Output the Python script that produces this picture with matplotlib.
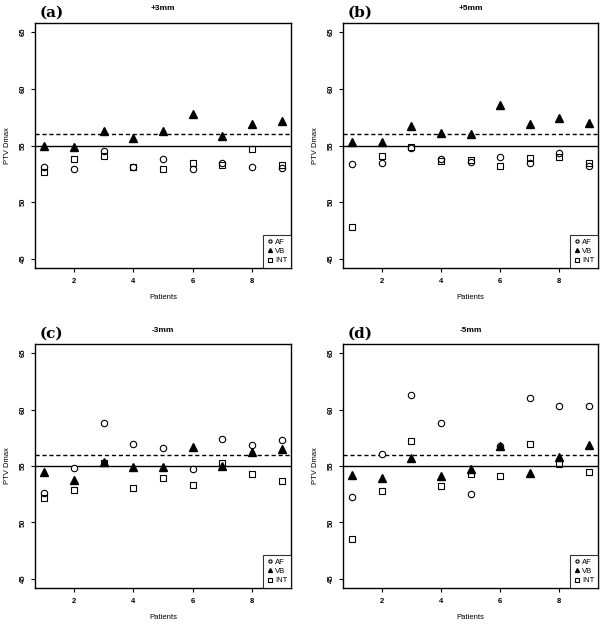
import matplotlib as mpl
import matplotlib.pyplot as plt

mpl.rcParams.update(
    {
        "font.family": "sans-serif",
        "font.sans-serif": ["Liberation Sans", "DejaVu Sans"],
        "axes.linewidth": 1.0,
        "xtick.major.size": 3,
        "ytick.major.size": 3,
        "xtick.major.width": 0.8,
        "ytick.major.width": 0.8,
    }
)

patients = [1, 2, 3, 4, 5, 6, 7, 8, 9]
panel_labels = ["(a)", "(b)", "(c)", "(d)"]
panel_titles = ["+3mm", "+5mm", "-3mm", "-5mm"]

af_plus3 = [53.1, 52.9, 54.5, 53.1, 53.8, 52.9, 53.45, 53.1, 53.0]
vb_plus3 = [55.0, 54.9, 56.3, 55.65, 56.3, 57.8, 55.8, 56.9, 57.2]
int_plus3 = [52.7, 53.8, 54.05, 53.1, 52.95, 53.45, 53.25, 54.7, 53.3]

af_plus5 = [53.35, 53.5, 54.75, 53.8, 53.55, 54.0, 53.45, 54.3, 53.15]
vb_plus5 = [55.35, 55.35, 56.7, 56.1, 56.05, 58.6, 56.9, 57.45, 57.0]
int_plus5 = [47.85, 54.05, 54.85, 53.65, 53.75, 53.2, 53.9, 54.0, 53.5]

af_minus3 = [52.6, 54.8, 58.85, 56.95, 56.6, 54.75, 57.35, 56.9, 57.3]
vb_minus3 = [54.45, 53.75, 55.35, 54.9, 54.9, 56.65, 54.97, 56.2, 56.5]
int_minus3 = [52.15, 52.9, 55.25, 53.05, 53.9, 53.3, 55.25, 54.3, 53.65]

af_minus5 = [52.3, 56.1, 61.3, 58.85, 52.5, 56.8, 61.0, 60.3, 60.3]
vb_minus5 = [54.2, 53.9, 55.7, 54.15, 54.7, 56.75, 54.4, 55.8, 56.9]
int_minus5 = [48.5, 52.8, 57.2, 53.25, 54.3, 54.1, 56.95, 55.2, 54.5]

af_sets = [af_plus3, af_plus5, af_minus3, af_minus5]
vb_sets = [vb_plus3, vb_plus5, vb_minus3, vb_minus5]
int_sets = [int_plus3, int_plus5, int_minus3, int_minus5]

limit_solid = 55
limit_dashed = 56
y_ticks = [45, 50, 55, 60, 65]
x_ticks = [2, 4, 6, 8]

W, H = 600, 624
fig = plt.figure(figsize=(W / 100, H / 100), dpi=100)

# axes boxes in pixels: left, top, right, bottom
boxes = [
    (35, 23, 291, 268),
    (343, 23, 598, 268),
    (35, 344, 291, 588),
    (343, 344, 598, 588),
]

for i, (l, t, r, b) in enumerate(boxes):
    ax = fig.add_axes([l / W, 1 - b / H, (r - l) / W, (b - t) / H])
    ax.axhline(limit_solid, color="black", linewidth=1.0, zorder=1)
    ax.axhline(limit_dashed, color="black", linewidth=1.0, linestyle=(0, (3, 2)), zorder=1)
    ax.plot(patients, af_sets[i], linestyle="none", marker="o", markersize=4.6,
            markerfacecolor="white", markeredgecolor="black", markeredgewidth=0.8,
            label="AF", zorder=3)
    ax.plot(patients, vb_sets[i], linestyle="none", marker="^", markersize=5.6,
            color="black", label="VB", zorder=4)
    ax.plot(patients, int_sets[i], linestyle="none", marker="s", markersize=4.6,
            markerfacecolor="none", markeredgecolor="black", markeredgewidth=0.8,
            label="INT", zorder=3)

    ax.set_xlim(0.68, 9.32)
    ax.set_ylim(44.2, 65.8)
    ax.set_xticks(x_ticks)
    ax.set_yticks(y_ticks)
    ax.tick_params(axis="x", labelsize=5.5, pad=4)
    ax.tick_params(axis="y", labelsize=5.5, pad=3)
    for lab in ax.get_xticklabels():
        lab.set_fontweight("bold")
    for lab in ax.get_yticklabels():
        lab.set_fontweight("bold")
        lab.set_rotation(90)
        lab.set_va("center")
    ax.set_xlabel("Patients", fontsize=5.5, labelpad=7)
    ax.set_ylabel("PTV Dmax", fontsize=5.5, labelpad=6)
    ax.set_title(panel_titles[i], fontsize=6, fontweight="bold", pad=9)

    ax.text(0.02, 1.012, panel_labels[i], transform=ax.transAxes, fontsize=11,
            fontweight="bold", family="DejaVu Serif", ha="left", va="bottom")

    leg = ax.legend(loc="lower right", fontsize=5.5, frameon=True, fancybox=False,
                    borderaxespad=0, borderpad=0.5, handlelength=0.6,
                    handletextpad=0.4, labelspacing=0.25, markerscale=0.5,
                    edgecolor="black")
    leg.get_frame().set_linewidth(0.8)

fig.savefig("out.png", dpi=100)
